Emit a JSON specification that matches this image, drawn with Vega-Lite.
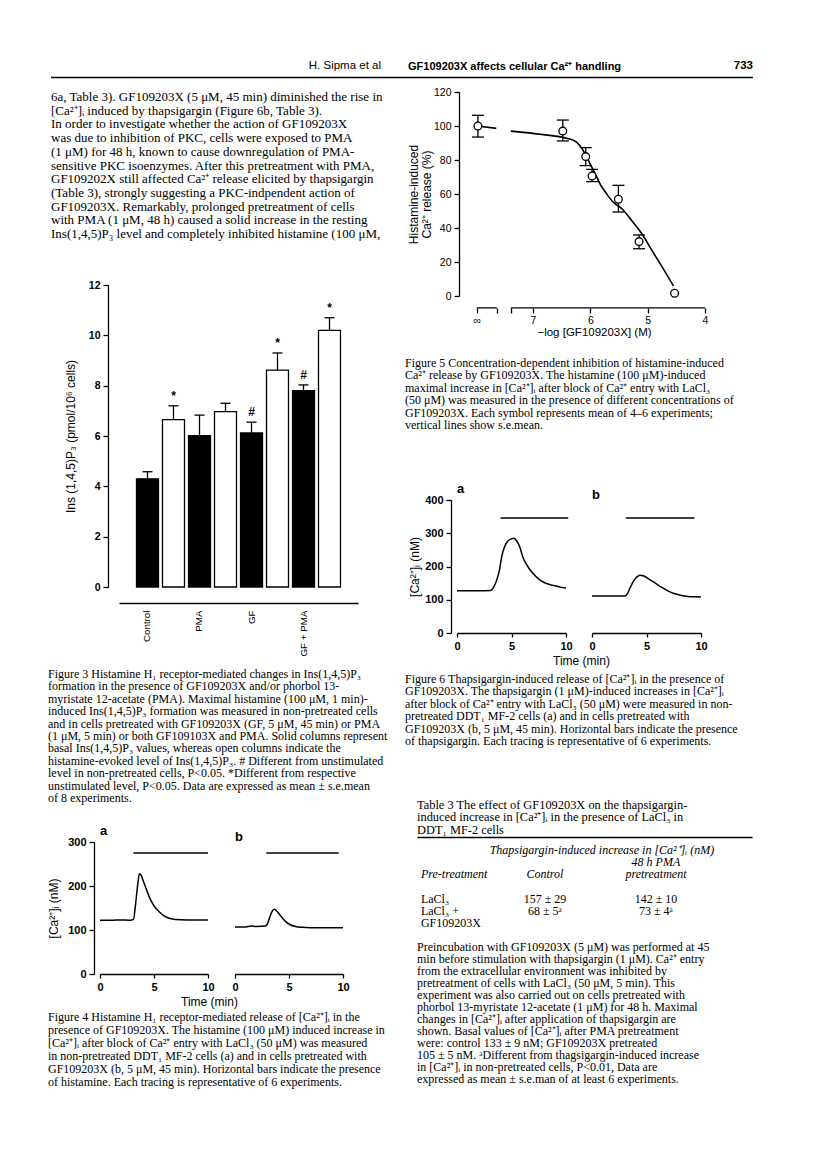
{
  "$schema": "https://vega.github.io/schema/vega-lite/v6.json",
  "background": "white",
  "padding": {"left": 47, "top": 60, "right": 5, "bottom": 5},
  "config": {
    "view": {"stroke": null},
    "font": "Liberation Sans",
    "axis": {"grid": false, "domainColor": "black", "tickColor": "black", "labelColor": "black", "titleColor": "black", "labelFont": "Liberation Sans", "titleFont": "Liberation Sans", "labelFontSize": 11, "titleFontSize": 12, "titleFontWeight": "normal", "domainWidth": 1.3, "tickWidth": 1.3, "tickSize": 5, "labelPadding": 3, "labelFlush": false, "labelOverlap": false},
    "title": {"font": "Liberation Serif", "fontSize": 12, "fontWeight": "normal", "color": "black", "anchor": "start", "frame": "group", "lineHeight": 12.4, "offset": 6}
  },
  "datasets": {
    "headerRule": [{"from": 0, "to": 1}],
    "fig3": [
      {"bar": "Control|basal", "condition": "basal", "mean": 4.3, "upper": 4.58, "sig": ""},
      {"bar": "Control|histamine", "condition": "histamine", "mean": 6.65, "upper": 7.2, "sig": "*"},
      {"bar": "PMA|basal", "condition": "basal", "mean": 6.01, "upper": 6.83, "sig": ""},
      {"bar": "PMA|histamine", "condition": "histamine", "mean": 6.97, "upper": 7.3, "sig": ""},
      {"bar": "GF|basal", "condition": "basal", "mean": 6.12, "upper": 6.55, "sig": "#"},
      {"bar": "GF|histamine", "condition": "histamine", "mean": 8.62, "upper": 9.3, "sig": "*"},
      {"bar": "GF + PMA|basal", "condition": "basal", "mean": 7.8, "upper": 8.03, "sig": "#"},
      {"bar": "GF + PMA|histamine", "condition": "histamine", "mean": 10.2, "upper": 10.7, "sig": "*"}
    ],
    "fig4": [
      {"panel": "a", "t": 0, "ca": 122}, {"panel": "a", "t": 1, "ca": 122}, {"panel": "a", "t": 2, "ca": 123}, {"panel": "a", "t": 2.8, "ca": 122},
      {"panel": "a", "t": 3.1, "ca": 124}, {"panel": "a", "t": 3.3, "ca": 160}, {"panel": "a", "t": 3.5, "ca": 205}, {"panel": "a", "t": 3.65, "ca": 228},
      {"panel": "a", "t": 3.8, "ca": 225}, {"panel": "a", "t": 4.0, "ca": 212}, {"panel": "a", "t": 4.3, "ca": 192}, {"panel": "a", "t": 4.6, "ca": 173},
      {"panel": "a", "t": 5.0, "ca": 155}, {"panel": "a", "t": 5.5, "ca": 141}, {"panel": "a", "t": 6.0, "ca": 131}, {"panel": "a", "t": 6.5, "ca": 126},
      {"panel": "a", "t": 7.0, "ca": 124}, {"panel": "a", "t": 8.0, "ca": 123}, {"panel": "a", "t": 9.0, "ca": 123}, {"panel": "a", "t": 10, "ca": 123},
      {"panel": "b", "t": 0, "ca": 107}, {"panel": "b", "t": 1, "ca": 107}, {"panel": "b", "t": 1.5, "ca": 109}, {"panel": "b", "t": 2, "ca": 108},
      {"panel": "b", "t": 2.8, "ca": 109}, {"panel": "b", "t": 3.0, "ca": 114}, {"panel": "b", "t": 3.2, "ca": 128}, {"panel": "b", "t": 3.45, "ca": 143},
      {"panel": "b", "t": 3.65, "ca": 147}, {"panel": "b", "t": 3.9, "ca": 142}, {"panel": "b", "t": 4.3, "ca": 130}, {"panel": "b", "t": 4.7, "ca": 119},
      {"panel": "b", "t": 5.1, "ca": 112}, {"panel": "b", "t": 5.6, "ca": 108}, {"panel": "b", "t": 6.2, "ca": 106}, {"panel": "b", "t": 7, "ca": 105},
      {"panel": "b", "t": 8, "ca": 105}, {"panel": "b", "t": 9, "ca": 105}, {"panel": "b", "t": 10, "ca": 105}
    ],
    "fig4bars": [{"panel": "a", "start": 3.1, "end": 10}, {"panel": "b", "start": 2.9, "end": 9.6}],
    "fig6": [
      {"panel": "a", "t": 0, "ca": 127}, {"panel": "a", "t": 1, "ca": 127}, {"panel": "a", "t": 2, "ca": 127}, {"panel": "a", "t": 3.1, "ca": 128},
      {"panel": "a", "t": 3.4, "ca": 140}, {"panel": "a", "t": 3.7, "ca": 165}, {"panel": "a", "t": 3.9, "ca": 190}, {"panel": "a", "t": 4.1, "ca": 230},
      {"panel": "a", "t": 4.35, "ca": 258}, {"panel": "a", "t": 4.65, "ca": 276}, {"panel": "a", "t": 5.0, "ca": 283}, {"panel": "a", "t": 5.2, "ca": 285},
      {"panel": "a", "t": 5.5, "ca": 276}, {"panel": "a", "t": 5.8, "ca": 255}, {"panel": "a", "t": 6.0, "ca": 232}, {"panel": "a", "t": 6.5, "ca": 200},
      {"panel": "a", "t": 7.0, "ca": 178}, {"panel": "a", "t": 7.5, "ca": 162}, {"panel": "a", "t": 8.0, "ca": 152}, {"panel": "a", "t": 8.5, "ca": 146},
      {"panel": "a", "t": 9.0, "ca": 142}, {"panel": "a", "t": 9.5, "ca": 138}, {"panel": "a", "t": 10, "ca": 135},
      {"panel": "b", "t": 0, "ca": 111}, {"panel": "b", "t": 1, "ca": 111}, {"panel": "b", "t": 2, "ca": 111}, {"panel": "b", "t": 3.0, "ca": 111},
      {"panel": "b", "t": 3.2, "ca": 116}, {"panel": "b", "t": 3.5, "ca": 136}, {"panel": "b", "t": 3.8, "ca": 156}, {"panel": "b", "t": 4.1, "ca": 168},
      {"panel": "b", "t": 4.4, "ca": 174}, {"panel": "b", "t": 4.7, "ca": 172}, {"panel": "b", "t": 5.2, "ca": 163}, {"panel": "b", "t": 5.8, "ca": 150},
      {"panel": "b", "t": 6.4, "ca": 137}, {"panel": "b", "t": 7.0, "ca": 126}, {"panel": "b", "t": 7.6, "ca": 118}, {"panel": "b", "t": 8.2, "ca": 113},
      {"panel": "b", "t": 8.8, "ca": 110}, {"panel": "b", "t": 9.4, "ca": 109}, {"panel": "b", "t": 10, "ca": 108}
    ],
    "fig6bars": [{"panel": "a", "start": 4.0, "end": 10.2}, {"panel": "b", "start": 3.1, "end": 9.4}],
    "fig5pts": [
      {"neglog": 7.96, "mean": 100, "low": 93.5, "high": 106.3},
      {"neglog": 6.48, "mean": 97, "low": 91.2, "high": 103.5},
      {"neglog": 6.08, "mean": 82, "low": 76.7, "high": 87.3},
      {"neglog": 5.97, "mean": 70.6, "low": 67.3, "high": 74.5},
      {"neglog": 5.51, "mean": 56.9, "low": 49.4, "high": 65.1},
      {"neglog": 5.15, "mean": 32, "low": 27.8, "high": 35.9},
      {"neglog": 4.53, "mean": 1.6}
    ],
    "fig5curve": [
      {"seg": "ctrl", "neglog": 7.96, "fit": 100}, {"seg": "ctrl", "neglog": 7.64, "fit": 98.6},
      {"seg": "fit", "neglog": 7.385, "fit": 97}, {"seg": "fit", "neglog": 6.84, "fit": 95}, {"seg": "fit", "neglog": 6.38, "fit": 92.5},
      {"seg": "fit", "neglog": 6.26, "fit": 91}, {"seg": "fit", "neglog": 6.17, "fit": 88}, {"seg": "fit", "neglog": 6.08, "fit": 83},
      {"seg": "fit", "neglog": 6.0, "fit": 77.5}, {"seg": "fit", "neglog": 5.91, "fit": 71.6}, {"seg": "fit", "neglog": 5.82, "fit": 65.3},
      {"seg": "fit", "neglog": 5.73, "fit": 60.8}, {"seg": "fit", "neglog": 5.62, "fit": 55.9}, {"seg": "fit", "neglog": 5.44, "fit": 51},
      {"seg": "fit", "neglog": 5.27, "fit": 44}, {"seg": "fit", "neglog": 5.09, "fit": 36}, {"seg": "fit", "neglog": 4.92, "fit": 26.5},
      {"seg": "fit", "neglog": 4.74, "fit": 16.7}, {"seg": "fit", "neglog": 4.55, "fit": 5.9}
    ],
    "fig5axis": [{"from": 7.98, "to": 7.63}, {"from": 7.385, "to": 4}],
    "table3": [
      {"line": 1, "col": "control", "role": "span", "cell": "Thapsigargin-induced increase in [Ca²⁺]ᵢ (nM)"},
      {"line": 2, "col": "pma", "role": "head", "cell": "48 h PMA"},
      {"line": 3, "col": "pre", "role": "headstub", "cell": "Pre-treatment"},
      {"line": 3, "col": "control", "role": "head", "cell": "Control"},
      {"line": 3, "col": "pma", "role": "head", "cell": "pretreatment"},
      {"line": 5, "col": "pre", "role": "stub", "cell": "LaCl₃"},
      {"line": 5, "col": "control", "role": "value", "cell": "157 ± 29"},
      {"line": 5, "col": "pma", "role": "value", "cell": "142 ± 10"},
      {"line": 6, "col": "pre", "role": "stub", "cell": "LaCl₃ +"},
      {"line": 6, "col": "control", "role": "value", "cell": "68 ± 5ᵃ"},
      {"line": 6, "col": "pma", "role": "value", "cell": "73 ± 4ᵃ"},
      {"line": 7, "col": "pre", "role": "stub", "cell": "\u00a0\u00a0GF109203X"}
    ]
  },
  "concat": [
    {
      "hconcat": [
        {"width": 330, "height": 1, "title": {"text": "H. Sipma et al", "anchor": "end", "frame": "group", "font": "Liberation Sans", "fontSize": 11.5, "offset": 5},
         "data": {"name": "headerRule"}, "mark": {"type": "rule", "strokeWidth": 1.5, "color": "black"},
         "encoding": {"x": {"field": "from", "type": "quantitative", "scale": {"domain": [0, 1]}, "axis": null}, "x2": {"field": "to"}}},
        {"width": 320, "height": 1, "title": {"text": "GF109203X affects cellular Ca²⁺ handling", "anchor": "start", "frame": "group", "font": "Liberation Sans", "fontWeight": "bold", "fontSize": 11, "offset": 5, "dx": 27},
         "data": {"name": "headerRule"}, "mark": {"type": "rule", "strokeWidth": 1.5, "color": "black"},
         "encoding": {"x": {"field": "from", "type": "quantitative", "scale": {"domain": [0, 1]}, "axis": null}, "x2": {"field": "to"}}},
        {"width": 52, "height": 1, "title": {"text": "733", "anchor": "end", "frame": "group", "font": "Liberation Sans", "fontWeight": "bold", "fontSize": 11.5, "offset": 5},
         "data": {"name": "headerRule"}, "mark": {"type": "rule", "strokeWidth": 1.5, "color": "black"},
         "encoding": {"x": {"field": "from", "type": "quantitative", "scale": {"domain": [0, 1]}, "axis": null}, "x2": {"field": "to"}}}
      ],
      "spacing": 0,
      "bounds": "flush"
    },
    {
      "hconcat": [
        {
          "concat": [
            {
              "width": 335, "height": 1,
              "title": {"text": [
                "6a, Table 3). GF109203X (5 μM, 45 min) diminished the rise in",
                "[Ca²⁺]ᵢ induced by thapsigargin (Figure 6b, Table 3).",
                "\u00a0\u00a0\u00a0In order to investigate whether the action of GF109203X",
                "was due to inhibition of PKC, cells were exposed to PMA",
                "(1 μM) for 48 h, known to cause downregulation of PMA-",
                "sensitive PKC isoenzymes. After this pretreatment with PMA,",
                "GF109202X still affected Ca²⁺ release elicited by thapsigargin",
                "(Table 3), strongly suggesting a PKC-indpendent action of",
                "GF109203X. Remarkably, prolonged pretreatment of cells",
                "with PMA (1 μM, 48 h) caused a solid increase in the resting",
                "Ins(1,4,5)P₃ level and completely inhibited histamine (100 μM,"
              ], "orient": "bottom", "fontSize": 13, "lineHeight": 13.7, "offset": -2},
              "data": {"name": "headerRule"}, "mark": {"type": "rule", "opacity": 0},
              "encoding": {"x": {"field": "from", "type": "quantitative", "axis": null}, "x2": {"field": "to"}}
            },
            {
              "concat": [
                {
                  "hconcat": [
                    {"width": 68, "height": 1, "data": {"name": "headerRule"}, "mark": {"type": "rule", "opacity": 0},
                     "encoding": {"x": {"field": "from", "type": "quantitative", "axis": null}, "x2": {"field": "to"}}},
                    {
                      "width": 239, "height": 302,
                      "data": {"name": "fig3"},
                      "encoding": {
                        "x": {"field": "bar", "type": "nominal", "sort": null, "scale": {"paddingInner": 0.154, "paddingOuter": 0.673},
                              "axis": {"title": null, "offset": 16, "ticks": false, "labelAngle": -90, "labelPadding": 7, "domainWidth": 1.5, "labelFontSize": 9.8,
                                       "labelExpr": "indexof(datum.value, '|basal') > 0 ? split(datum.value, '|')[0] : ''"}}
                      },
                      "layer": [
                        {"mark": {"type": "bar", "stroke": "black", "strokeWidth": 1.3},
                         "encoding": {
                           "y": {"field": "mean", "type": "quantitative", "scale": {"domain": [0, 12], "nice": false},
                                 "axis": {"values": [0, 2, 4, 6, 8, 10, 12], "tickCount": 7, "offset": 11, "title": "Ins (1,4,5)P₃ (pmol/10⁶ cells)", "labelFontWeight": "bold", "labelFontSize": 10.5, "titlePadding": 11}},
                           "fill": {"field": "condition", "type": "nominal", "scale": {"domain": ["basal", "histamine"], "range": ["black", "white"]}, "legend": null}}},
                        {"mark": {"type": "rule", "strokeWidth": 1.3, "color": "black"},
                         "encoding": {"y": {"field": "mean", "type": "quantitative"}, "y2": {"field": "upper"}}},
                        {"mark": {"type": "tick", "orient": "horizontal", "size": 10, "thickness": 1.3, "color": "black", "opacity": 1},
                         "encoding": {"y": {"field": "upper", "type": "quantitative"}}},
                        {"mark": {"type": "text", "dy": -10, "fontSize": 12, "fontWeight": "bold", "font": "Liberation Sans", "color": "black"},
                         "encoding": {"y": {"field": "upper", "type": "quantitative"}, "text": {"field": "sig"}}}
                      ]
                    }
                  ],
                  "spacing": 0,
                  "bounds": "flush",
                  "title": {"text": [
                    "Figure 3  Histamine H₁ receptor-mediated changes in Ins(1,4,5)P₃",
                    "formation in the presence of GF109203X and/or phorbol 13-",
                    "myristate 12-acetate (PMA). Maximal histamine (100 μM, 1 min)-",
                    "induced Ins(1,4,5)P₃ formation was measured in non-pretreated cells",
                    "and in cells pretreated with GF109203X (GF, 5 μM, 45 min) or PMA",
                    "(1 μM, 5 min) or both GF109103X and PMA. Solid columns represent",
                    "basal Ins(1,4,5)P₃ values, whereas open columns indicate the",
                    "histamine-evoked level of Ins(1,4,5)P₃. # Different from unstimulated",
                    "level in non-pretreated cells, P<0.05. *Different from respective",
                    "unstimulated level, P<0.05. Data are expressed as mean ± s.e.mean",
                    "of 8 experiments."
                  ], "orient": "bottom", "offset": 13, "dx": -3}
                },
                {
                  "hconcat": [
                    {"width": 22, "height": 1, "data": {"name": "headerRule"}, "mark": {"type": "rule", "opacity": 0},
                     "encoding": {"x": {"field": "from", "type": "quantitative", "axis": null}, "x2": {"field": "to"}}},
                    {
                      "width": 108, "height": 132,
                      "title": {"text": "a", "anchor": "start", "frame": "group", "font": "Liberation Sans", "fontWeight": "bold", "fontSize": 13, "offset": -2},
                      "layer": [
                        {"data": {"name": "fig4"}, "transform": [{"filter": "datum.panel == 'a'"}],
                         "mark": {"type": "line", "interpolate": "monotone", "color": "black", "strokeWidth": 1.5},
                         "encoding": {
                           "x": {"field": "t", "type": "quantitative", "scale": {"domain": [0, 10], "nice": false},
                                 "axis": {"values": [0, 5, 10], "tickCount": 3, "title": "Time (min)", "titleX": 109, "titleAlign": "center", "titlePadding": 4, "labelFontWeight": "bold", "labelFontSize": 11, "tickSize": 4}},
                           "y": {"field": "ca", "type": "quantitative", "scale": {"domain": [0, 300], "nice": false},
                                 "axis": {"values": [0, 100, 200, 300], "tickCount": 4, "offset": 6, "title": "[Ca²⁺]ᵢ (nM)", "titlePadding": 7, "labelFontWeight": "bold", "labelFontSize": 11}}}},
                        {"data": {"name": "fig4bars"}, "transform": [{"filter": "datum.panel == 'a'"}],
                         "mark": {"type": "rule", "color": "black", "strokeWidth": 1.5},
                         "encoding": {"x": {"field": "start", "type": "quantitative"}, "x2": {"field": "end"}, "y": {"datum": 275, "type": "quantitative"}}}
                      ]
                    },
                    {
                      "width": 108, "height": 132,
                      "title": {"text": "b", "anchor": "start", "frame": "group", "font": "Liberation Sans", "fontWeight": "bold", "fontSize": 13, "offset": -2},
                      "layer": [
                        {"data": {"name": "fig4"}, "transform": [{"filter": "datum.panel == 'b'"}],
                         "mark": {"type": "line", "interpolate": "monotone", "color": "black", "strokeWidth": 1.5},
                         "encoding": {
                           "x": {"field": "t", "type": "quantitative", "scale": {"domain": [0, 10], "nice": false},
                                 "axis": {"values": [0, 5, 10], "tickCount": 3, "title": null, "labelFontWeight": "bold", "labelFontSize": 11, "tickSize": 4}},
                           "y": {"field": "ca", "type": "quantitative", "scale": {"domain": [0, 300], "nice": false}, "axis": null}}},
                        {"data": {"name": "fig4bars"}, "transform": [{"filter": "datum.panel == 'b'"}],
                         "mark": {"type": "rule", "color": "black", "strokeWidth": 1.5},
                         "encoding": {"x": {"field": "start", "type": "quantitative"}, "x2": {"field": "end"}, "y": {"datum": 275, "type": "quantitative"}}}
                      ]
                    }
                  ],
                  "spacing": 27,
                  "bounds": "flush",
                  "title": {"text": [
                    "Figure 4  Histamine H₁ receptor-mediated release of [Ca²⁺]ᵢ in the",
                    "presence of GF109203X. The histamine (100 μM) induced increase in",
                    "[Ca²⁺]ᵢ after block of Ca²⁺ entry with LaCl₃ (50 μM) was measured",
                    "in non-pretreated DDT₁ MF-2 cells (a) and in cells pretreated with",
                    "GF109203X (b, 5 μM, 45 min). Horizontal bars indicate the presence",
                    "of histamine. Each tracing is representative of 6 experiments."
                  ], "orient": "bottom", "offset": 5, "lineHeight": 13, "dx": -3}
                }
              ],
              "columns": 1,
              "spacing": 21
            }
          ],
          "columns": 1,
          "spacing": 39
        },
        {
          "concat": [
            {
              "hconcat": [
                {"width": 42, "height": 1, "data": {"name": "headerRule"}, "mark": {"type": "rule", "opacity": 0},
                 "encoding": {"x": {"field": "from", "type": "quantitative", "axis": null}, "x2": {"field": "to"}}},
                {
                  "width": 246, "height": 204,
                  "layer": [
                    {"data": {"name": "fig5axis"},
                     "mark": {"type": "rule", "color": "black", "strokeWidth": 1.3},
                     "encoding": {
                       "x": {"field": "from", "type": "quantitative", "scale": {"domain": [4, 8.29], "reverse": true, "nice": false, "zero": false},
                             "axis": {"values": [7.98, 7.63, 7.385, 7, 6, 5, 4], "tickCount": 7, "domain": false, "offset": 12, "tickSize": 5, "labelFontSize": 10.5, "labelPadding": 2,
                                      "labelExpr": "datum.value > 7.9 ? '∞' : (datum.value == 7 || datum.value == 6 || datum.value == 5 || datum.value == 4) ? format(datum.value, 'd') : ''",
                                      "title": "−log [GF109203X] (M)", "titleX": 135, "titleAlign": "center", "titlePadding": 1, "titleFontSize": 11.5}},
                       "x2": {"field": "to"},
                       "y": {"datum": -7, "type": "quantitative", "scale": {"domain": [0, 120], "nice": false},
                             "axis": {"values": [0, 20, 40, 60, 80, 100, 120], "tickCount": 7, "title": ["Histamine-induced", "Ca²⁺ release (%)"], "titlePadding": 0, "labelFontSize": 10.5, "titleFontSize": 12, "titleLineHeight": 13}}}},
                    {"data": {"name": "fig5curve"},
                     "mark": {"type": "line", "interpolate": "monotone", "color": "black", "strokeWidth": 1.6},
                     "encoding": {"x": {"field": "neglog", "type": "quantitative"}, "y": {"field": "fit", "type": "quantitative"}, "detail": {"field": "seg"}}},
                    {"data": {"name": "fig5pts"}, "transform": [{"filter": "isValid(datum.low)"}],
                     "mark": {"type": "rule", "color": "black", "strokeWidth": 1.3},
                     "encoding": {"x": {"field": "neglog", "type": "quantitative"}, "y": {"field": "low", "type": "quantitative"}, "y2": {"field": "high"}}},
                    {"data": {"name": "fig5pts"}, "transform": [{"filter": "isValid(datum.low)"}],
                     "mark": {"type": "tick", "orient": "horizontal", "size": 12, "thickness": 1.3, "color": "black", "opacity": 1},
                     "encoding": {"x": {"field": "neglog", "type": "quantitative"}, "y": {"field": "low", "type": "quantitative"}}},
                    {"data": {"name": "fig5pts"}, "transform": [{"filter": "isValid(datum.high)"}],
                     "mark": {"type": "tick", "orient": "horizontal", "size": 12, "thickness": 1.3, "color": "black", "opacity": 1},
                     "encoding": {"x": {"field": "neglog", "type": "quantitative"}, "y": {"field": "high", "type": "quantitative"}}},
                    {"data": {"name": "fig5pts"},
                     "mark": {"type": "point", "shape": "circle", "size": 60, "filled": true, "fill": "white", "stroke": "black", "strokeWidth": 1.3, "opacity": 1},
                     "encoding": {"x": {"field": "neglog", "type": "quantitative"}, "y": {"field": "mean", "type": "quantitative"}}}
                  ]
                }
              ],
              "spacing": 0,
              "bounds": "flush",
              "title": {"text": [
                "Figure 5  Concentration-dependent inhibition of histamine-induced",
                "Ca²⁺ release by GF109203X. The histamine (100 μM)-induced",
                "maximal increase in [Ca²⁺]ᵢ after block of Ca²⁺ entry with LaCl₃",
                "(50 μM) was measured in the presence of different concentrations of",
                "GF109203X. Each symbol represents mean of 4–6 experiments;",
                "vertical lines show s.e.mean."
              ], "orient": "bottom", "offset": 20, "dx": -12}
            },
            {
              "concat": [
                {
                  "hconcat": [
                    {"width": 14, "height": 1, "data": {"name": "headerRule"}, "mark": {"type": "rule", "opacity": 0},
                     "encoding": {"x": {"field": "from", "type": "quantitative", "axis": null}, "x2": {"field": "to"}}},
                    {
                      "width": 109, "height": 133,
                      "title": {"text": "a", "anchor": "start", "frame": "group", "font": "Liberation Sans", "fontWeight": "bold", "fontSize": 13, "offset": -2},
                      "layer": [
                        {"data": {"name": "fig6"}, "transform": [{"filter": "datum.panel == 'a'"}],
                         "mark": {"type": "line", "interpolate": "monotone", "color": "black", "strokeWidth": 1.5},
                         "encoding": {
                           "x": {"field": "t", "type": "quantitative", "scale": {"domain": [0, 10], "nice": false},
                                 "axis": {"values": [0, 5, 10], "tickCount": 3, "title": "Time (min)", "titleX": 124, "titleAlign": "center", "titlePadding": 4, "labelFontWeight": "bold", "labelFontSize": 11, "tickSize": 4}},
                           "y": {"field": "ca", "type": "quantitative", "scale": {"domain": [0, 400], "nice": false},
                                 "axis": {"values": [0, 100, 200, 300, 400], "tickCount": 5, "offset": 6, "title": "[Ca²⁺]ᵢ (nM)", "titlePadding": 3, "labelFontWeight": "bold", "labelFontSize": 11}}}},
                        {"data": {"name": "fig6bars"}, "transform": [{"filter": "datum.panel == 'a'"}],
                         "mark": {"type": "rule", "color": "black", "strokeWidth": 1.5},
                         "encoding": {"x": {"field": "start", "type": "quantitative"}, "x2": {"field": "end"}, "y": {"datum": 346, "type": "quantitative"}}}
                      ]
                    },
                    {
                      "width": 109, "height": 133,
                      "title": {"text": "b", "anchor": "start", "frame": "group", "font": "Liberation Sans", "fontWeight": "bold", "fontSize": 13, "offset": -2},
                      "layer": [
                        {"data": {"name": "fig6"}, "transform": [{"filter": "datum.panel == 'b'"}],
                         "mark": {"type": "line", "interpolate": "monotone", "color": "black", "strokeWidth": 1.5},
                         "encoding": {
                           "x": {"field": "t", "type": "quantitative", "scale": {"domain": [0, 10], "nice": false},
                                 "axis": {"values": [0, 5, 10], "tickCount": 3, "title": null, "labelFontWeight": "bold", "labelFontSize": 11, "tickSize": 4}},
                           "y": {"field": "ca", "type": "quantitative", "scale": {"domain": [0, 400], "nice": false}, "axis": null}}},
                        {"data": {"name": "fig6bars"}, "transform": [{"filter": "datum.panel == 'b'"}],
                         "mark": {"type": "rule", "color": "black", "strokeWidth": 1.5},
                         "encoding": {"x": {"field": "start", "type": "quantitative"}, "x2": {"field": "end"}, "y": {"datum": 346, "type": "quantitative"}}}
                      ]
                    }
                  ],
                  "spacing": 26,
                  "bounds": "flush",
                  "title": {"text": [
                    "Figure 6  Thapsigargin-induced release of [Ca²⁺]ᵢ in the presence of",
                    "GF109203X. The thapsigargin (1 μM)-induced increases in [Ca²⁺]ᵢ",
                    "after block of Ca²⁺ entry with LaCl₃ (50 μM) were measured in non-",
                    "pretreated DDT₁ MF-2 cells (a) and in cells pretreated with",
                    "GF109203X (b, 5 μM, 45 min). Horizontal bars indicate the presence",
                    "of thapsigargin. Each tracing is representative of 6 experiments."
                  ], "orient": "bottom", "offset": 8, "dx": -12}
                },
                {
                  "width": 335, "height": 73,
                  "title": {"text": [
                    "Table 3  The effect of GF109203X on the thapsigargin-",
                    "induced increase in [Ca²⁺]ᵢ in the presence of LaCl₃ in",
                    "DDT₁ MF-2 cells"
                  ], "orient": "top", "fontSize": 12.4, "lineHeight": 12.5, "offset": 1},
                  "data": {"name": "table3"},
                  "encoding": {
                    "x": {"field": "col", "type": "nominal", "scale": {"type": "point", "domain": ["pre", "control", "pma"], "padding": 0.509, "align": 0.15},
                          "axis": {"orient": "top", "title": null, "labels": false, "ticks": false, "domain": true, "offset": 13, "domainWidth": 1.3}},
                    "y": {"field": "line", "type": "ordinal", "scale": {"type": "point", "domain": [1, 2, 3, 4, 5, 6, 7], "padding": 0}, "axis": null},
                    "text": {"field": "cell"}
                  },
                  "layer": [
                    {"transform": [{"filter": "datum.role == 'span'"}], "mark": {"type": "text", "font": "Liberation Serif", "fontStyle": "italic", "fontSize": 12, "align": "center", "baseline": "middle", "dx": 57, "color": "black"}},
                    {"transform": [{"filter": "datum.role == 'head'"}], "mark": {"type": "text", "font": "Liberation Serif", "fontStyle": "italic", "fontSize": 12, "align": "center", "baseline": "middle", "color": "black"}},
                    {"transform": [{"filter": "datum.role == 'headstub'"}], "mark": {"type": "text", "font": "Liberation Serif", "fontStyle": "italic", "fontSize": 12, "align": "left", "baseline": "middle", "dx": -13, "color": "black"}},
                    {"transform": [{"filter": "datum.role == 'stub'"}], "mark": {"type": "text", "font": "Liberation Serif", "fontSize": 12, "align": "left", "baseline": "middle", "dx": -13, "color": "black"}},
                    {"transform": [{"filter": "datum.role == 'value'"}], "mark": {"type": "text", "font": "Liberation Serif", "fontSize": 12, "align": "center", "baseline": "middle", "color": "black"}}
                  ]
                }
              ],
              "columns": 1,
              "spacing": 51
            }
          ],
          "columns": 1,
          "spacing": 52,
          "title": {"text": [
            "Preincubation with GF109203X (5 μM) was performed at 45",
            "min before stimulation with thapsigargin (1 μM). Ca²⁺ entry",
            "from the extracellular environment was inhibited by",
            "pretreatment of cells with LaCl₃ (50 μM, 5 min). This",
            "experiment was also carried out on cells pretreated with",
            "phorbol 13-myristate 12-acetate (1 μM) for 48 h. Maximal",
            "changes in [Ca²⁺]ᵢ after application of thapsigargin are",
            "shown. Basal values of [Ca²⁺]ᵢ after PMA pretreatment",
            "were: control 133 ± 9 nM; GF109203X pretreated",
            "105 ± 5 nM. ᵃDifferent from thagsigargin-induced increase",
            "in [Ca²⁺]ᵢ in non-pretreated cells, P<0.01, Data are",
            "expressed as mean ± s.e.man of at least 6 experiments."
          ], "orient": "bottom", "fontSize": 12, "lineHeight": 12, "offset": 13}
        }
      ],
      "spacing": 17
    }
  ],
  "columns": 1,
  "spacing": 8
}
